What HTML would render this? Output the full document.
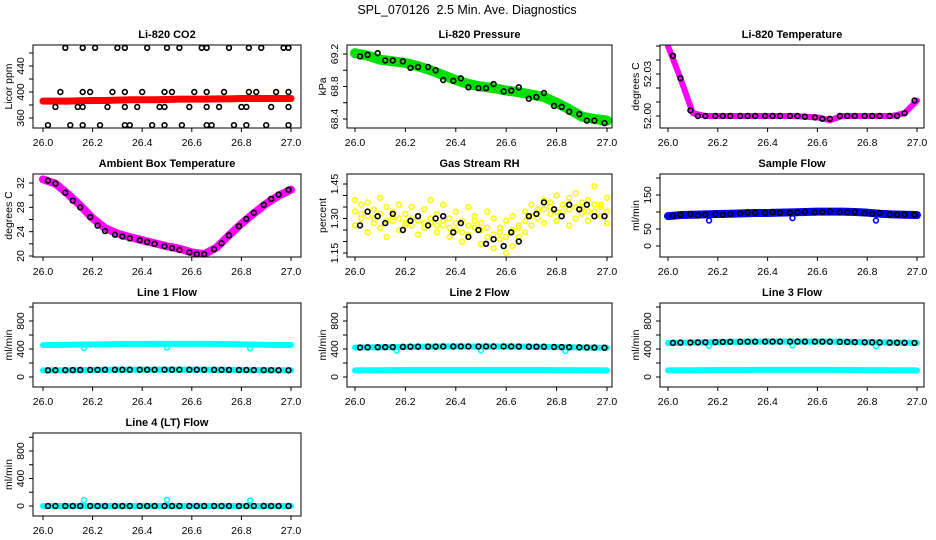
<!DOCTYPE html>
<html><head><meta charset="utf-8"><style>
html,body{margin:0;padding:0;background:#fff}
svg{display:block;font-family:"Liberation Sans",sans-serif}
</style></head><body>
<svg id="chart" width="936" height="540" viewBox="0 0 936 540" xmlns="http://www.w3.org/2000/svg">
<rect x="0" y="0" width="936" height="540" fill="#fff"/>
<text x="467" y="14" font-size="12.5" text-anchor="middle" style="white-space:pre" xml:space="preserve">SPL_070126  2.5 Min. Ave. Diagnostics</text>
</svg>
<script>
// ---- data ----
const xTicks = [26.0, 26.2, 26.4, 26.6, 26.8, 27.0];
const xTickLabels = ["26.0", "26.2", "26.4", "26.6", "26.8", "27.0"];
const bandT = [26.00,26.05,26.10,26.15,26.20,26.25,26.30,26.35,26.40,26.45,26.50,26.55,26.60,26.65,26.70,26.75,26.80,26.85,26.90,26.95,27.00];
const circT = [26.02,26.05,26.09,26.12,26.15,26.19,26.22,26.25,26.29,26.32,26.35,26.39,26.42,26.45,26.49,26.52,26.55,26.59,26.62,26.65,26.69,26.72,26.75,26.79,26.82,26.85,26.89,26.92,26.95,26.99];

const co2Band = [386,386,386,386.5,387,387,387.5,388,388,388,388.5,389,389,389,389.5,389.5,390,390,390,390,390];
const co2T = [26.09,26.16,26.21,26.30,26.33,26.42,26.50,26.55,26.64,26.66,26.75,26.83,26.88,26.97,26.99,
  26.07,26.16,26.19,26.28,26.33,26.40,26.49,26.52,26.61,26.66,26.73,26.83,26.86,26.94,26.99,
  26.05,26.14,26.16,26.26,26.33,26.38,26.47,26.49,26.59,26.66,26.71,26.80,26.82,26.92,26.99,
  26.02,26.11,26.16,26.23,26.33,26.35,26.44,26.49,26.56,26.66,26.68,26.77,26.82,26.90,26.99];
const co2V = [468,468,468,468,468,468,468,468,468,468,468,468,468,468,468,
  400,400,400,400,400,400,400,400,400,400,400,400,400,400,400,
  377,377,377,377,377,377,377,377,377,377,377,377,377,377,377,
  349,349,349,349,349,349,349,349,349,349,349,349,349,349,349];

const presBand = [69.21,69.18,69.13,69.11,69.09,69.05,69.00,68.94,68.88,68.83,68.80,68.78,68.75,68.73,68.70,68.67,68.60,68.52,68.43,68.40,68.38];
const presCirc = [69.17,69.19,69.21,69.12,69.12,69.11,69.03,69.04,69.04,69.00,68.88,68.87,68.90,68.79,68.78,68.78,68.83,68.74,68.75,68.79,68.65,68.67,68.72,68.56,68.55,68.49,68.46,68.38,68.38,68.35];

const tempBand = [52.050,52.027,52.002,52.000,52.000,52.000,52.000,52.000,52.000,52.000,52.000,51.9995,51.999,51.997,52.000,52.000,52.000,52.000,52.000,52.002,52.011];
const tempCirc = [52.043,52.027,52.004,52.000,52.000,52.000,52.000,52.000,52.000,52.000,52.000,52.000,52.000,52.000,52.000,52.000,51.9995,51.999,51.998,51.998,52.000,52.000,52.000,52.000,52.000,52.000,52.000,52.000,52.002,52.011];

const ambBand = [32.6,31.9,30.2,28.3,26.2,24.6,23.7,23.1,22.6,22.1,21.6,21.2,20.6,20.3,21.4,23.4,25.3,27.0,28.6,29.9,30.9];
const ambCirc = [32.4,31.9,30.4,29.1,28.0,26.4,25.0,24.1,23.5,23.2,22.9,22.6,22.3,22.0,21.6,21.3,21.0,20.6,20.3,20.3,21.1,22.1,23.4,24.9,26.1,27.1,28.4,29.4,30.1,30.9];

const rhT = [26.000,26.025,26.050,26.075,26.100,26.125,26.150,26.175,26.200,26.225,26.250,26.275,26.300,26.325,26.350,26.375,26.400,26.425,26.450,26.475,26.500,26.525,26.550,26.575,26.600,26.625,26.650,26.675,26.700,26.725,26.750,26.775,26.800,26.825,26.850,26.875,26.900,26.925,26.950,26.975,27.000];
const rhY1 = [1.38,1.36,1.37,1.34,1.39,1.35,1.33,1.36,1.32,1.35,1.31,1.34,1.38,1.32,1.36,1.30,1.33,1.29,1.35,1.31,1.28,1.33,1.30,1.26,1.29,1.31,1.27,1.33,1.36,1.34,1.38,1.37,1.40,1.36,1.39,1.41,1.37,1.38,1.44,1.36,1.39];
const rhY2 = [1.27,1.30,1.24,1.28,1.26,1.22,1.29,1.25,1.27,1.30,1.23,1.26,1.28,1.24,1.27,1.22,1.25,1.20,1.23,1.26,1.19,1.22,1.17,1.21,1.15,1.18,1.22,1.24,1.27,1.30,1.28,1.32,1.29,1.33,1.27,1.30,1.32,1.29,1.33,1.31,1.28];
const rhY3 = [1.33,1.32,1.31,1.30,1.32,1.29,1.31,1.30,1.28,1.27,1.29,1.28,1.30,1.27,1.29,1.26,1.28,1.24,1.27,1.29,1.25,1.26,1.23,1.24,1.22,1.25,1.26,1.29,1.31,1.33,1.34,1.35,1.33,1.36,1.34,1.35,1.34,1.33,1.36,1.35,1.33];
const rhCirc = [1.27,1.33,1.31,1.28,1.32,1.25,1.29,1.31,1.27,1.30,1.31,1.24,1.28,1.22,1.25,1.19,1.21,1.18,1.24,1.20,1.31,1.32,1.37,1.34,1.31,1.36,1.34,1.36,1.31,1.31];

const sfBand = [88,91,92,93,94,95,96,97,97,98,99,100,101,101,101,100,98,95,93,92,91];
const sfCirc = [89,92,94,90,92,94,92,94,96,99,98,98,100,98,98,99,101,99,100,102,99,99,100,96,95,97,93,92,93,92];
const dipT = [26.165, 26.50, 26.835];
const sfDip = [75, 82, 75];

const l1Up = [455,458,460,462,465,468,470,472,472,473,473,474,474,474,473,470,466,463,460,458,458];
const l1Low = [95,96,97,98,100,102,103,104,104,104,104,104,104,103,102,101,100,99,98,97,96];
const l1Circ = [96,97,98,99,100,102,103,104,104,104,104,104,104,104,104,104,104,104,104,103,102,102,101,100,100,99,98,98,97,96];
const l1Dip = [415,420,410];

const l2Up = [420,423,425,427,430,432,434,435,435,436,436,436,436,435,433,430,427,425,422,420,418];
const l2Low = [95,96,97,98,100,100,100,100,100,100,100,100,100,100,100,100,99,98,97,96,95];
const l2Circ = [421,424,426,427,428,431,433,434,435,435,436,436,436,436,436,436,436,436,436,435,434,433,432,429,428,426,424,422,420,418];
const l2Dip = [375,380,370];

const l3Up = [485,490,492,495,498,500,502,504,505,505,506,506,506,505,503,500,496,494,491,489,487];
const l3Low = [95,96,97,98,100,100,100,101,101,101,101,101,101,101,100,100,99,98,97,96,95];
const l3Circ = [488,491,492,494,496,499,501,503,504,505,505,506,506,506,506,506,506,506,505,504,502,500,498,496,495,493,491,490,489,487];
const l3Dip = [445,450,440];

const l4Band = [0,0,0,0,0,0,0,0,0,0,0,0,0,0,0,0,0,0,0,0,0];
const l4Circ = [0,0,0,0,0,0,0,0,0,0,0,0,0,0,0,0,0,0,0,0,0,0,0,0,0,0,0,0,0,0];
const l4Out = [85,90,80];

// ---- layout ----
const NS = "http://www.w3.org/2000/svg";
const svg = document.getElementById('chart');
const cols = [{l:33,r:301,x0:43,x1:291},{l:347,r:612,x0:355,x1:607},{l:660,r:924,x0:668,x1:917}];
const rows = [{t:45,b:128},{t:174,b:257},{t:303,b:387},{t:433,b:516}];

function mk(tag, attrs, parent){ const e=document.createElementNS(NS,tag); for(const k in attrs) e.setAttribute(k,attrs[k]); (parent||svg).appendChild(e); return e; }

function panel(o){
  const c=cols[o.col], r=rows[o.row];
  const g=mk('g',{});
  
  
  const xs=t=>c.x0+(t-26)*(c.x1-c.x0);
  const ys=v=>o.yp0+(v-o.yv0)*(o.yp1-o.yp0)/(o.yv1-o.yv0);
  const clip='clip-'+o.name;
  const cp=mk('clipPath',{id:clip},g); mk('rect',{x:c.l,y:r.t,width:c.r-c.l,height:r.b-r.t},cp);
  const data=mk('g',{'clip-path':'url(#'+clip+')'},g);
  
  
  (o.draw||(()=>{}))(data,xs,ys);
  const box=mk('rect',{x:c.l,y:r.t,width:c.r-c.l,height:r.b-r.t,fill:'none',stroke:'#000','stroke-width':1},g);
  
  
  xTicks.forEach((t,i)=>{
    const x=xs(t);
    mk('line',{x1:x,x2:x,y1:r.b,y2:r.b+4,stroke:'#000'},g);
    const tx=mk('text',{x:x,y:r.b+18,'font-size':10.5,'text-anchor':'middle'},g);
    
    
    tx.textContent=xTickLabels[i];
  });
  o.yTicks.forEach(v=>{
    const y=ys(v);
    mk('line',{x1:c.l,x2:c.l-4,y1:y,y2:y,stroke:'#000'},g);
  });
  o.yLabels.forEach(l=>{
    const y=ys(l[0]);
    const tx=mk('text',{x:0,y:0,'font-size':10.5,'text-anchor':'middle',transform:`translate(${c.l-9},${y}) rotate(-90)`},g);
    
    
    tx.textContent=l[1];
  });
  const yt=mk('text',{x:0,y:0,'font-size':10.5,'text-anchor':'middle',transform:`translate(${c.l-21},${(r.t+r.b)/2}) rotate(-90)`},g);
  
  
  yt.textContent=o.ytitle;
  const tt=mk('text',{x:(c.l+c.r)/2,y:r.t-7,'font-size':11,'font-weight':'bold','text-anchor':'middle'},g);
  
  
  tt.textContent=o.title;
}
function band(g,xs,ys,T,V,color,w,name){
  const p=mk('polyline',{points:T.map((t,i)=>xs(t)+','+ys(V[i])).join(' '),fill:'none',stroke:color,'stroke-width':w,'stroke-linejoin':'round','stroke-linecap':'round'},g);
  
  
}
function circles(g,xs,ys,T,V,color,name,rad){
  T.forEach((t,i)=>{
    const c=mk('circle',{cx:xs(t),cy:ys(V[i]),r:rad||2.4,fill:'none',stroke:color,'stroke-width':1.6},g);
    
    
  });
}
const CY='#00ffff';
const flowTicks=[0,200,400,600,800,1000], flowLabels=[[0,'0'],[400,'400'],[800,'800']];

panel({name:'co2',col:0,row:0,title:'Li-820 CO2',ytitle:'Licor ppm',yv0:360,yp0:118,yv1:440,yp1:66,
  yTicks:[360,380,400,420,440,460],yLabels:[[360,'360'],[400,'400'],[440,'440']],
  draw:(g,xs,ys)=>{band(g,xs,ys,bandT,co2Band,'#ff0000',7,'co2-series');circles(g,xs,ys,co2T,co2V,'#000','co2-point');}});
panel({name:'pressure',col:1,row:0,title:'Li-820 Pressure',ytitle:'kPa',yv0:68.4,yp0:119,yv1:68.8,yp1:86.5,
  yTicks:[68.4,68.6,68.8,69.0,69.2],yLabels:[[68.4,'68.4'],[68.8,'68.8'],[69.2,'69.2']],
  draw:(g,xs,ys)=>{band(g,xs,ys,bandT,presBand,'#00e000',10,'pressure-series');circles(g,xs,ys,circT,presCirc,'#000','pressure-point');}});
panel({name:'temperature',col:2,row:0,title:'Li-820 Temperature',ytitle:'degrees C',yv0:52.00,yp0:116,yv1:52.03,yp1:74,
  yTicks:[52.00,52.01,52.02,52.03,52.04,52.05],yLabels:[[52.00,'52.00'],[52.03,'52.03']],
  draw:(g,xs,ys)=>{band(g,xs,ys,bandT,tempBand,'#ff00ff',6,'temperature-series');circles(g,xs,ys,circT,tempCirc,'#000','temperature-point');}});
panel({name:'ambient',col:0,row:1,title:'Ambient Box Temperature',ytitle:'degrees C',yv0:20,yp0:256,yv1:32,yp1:183,
  yTicks:[20,22,24,26,28,30,32],yLabels:[[20,'20'],[24,'24'],[28,'28'],[32,'32']],
  draw:(g,xs,ys)=>{band(g,xs,ys,bandT,ambBand,'#ff00ff',8,'ambient-series');circles(g,xs,ys,circT,ambCirc,'#000','ambient-point');}});
panel({name:'rh',col:1,row:1,title:'Gas Stream RH',ytitle:'percent',yv0:1.15,yp0:253,yv1:1.45,yp1:184,
  yTicks:[1.15,1.20,1.25,1.30,1.35,1.40,1.45],yLabels:[[1.15,'1.15'],[1.30,'1.30'],[1.45,'1.45']],
  draw:(g,xs,ys)=>{circles(g,xs,ys,rhT,rhY1,'#ffff00','rh-point');circles(g,xs,ys,rhT,rhY2,'#ffff00','rh-point');circles(g,xs,ys,rhT,rhY3,'#ffff00','rh-point');circles(g,xs,ys,circT,rhCirc,'#000','rh-avg-point');}});
panel({name:'sample-flow',col:2,row:1,title:'Sample Flow',ytitle:'ml/min',yv0:0,yp0:246,yv1:150,yp1:195,
  yTicks:[0,50,100,150,200],yLabels:[[0,'0'],[50,'50'],[150,'150']],
  draw:(g,xs,ys)=>{band(g,xs,ys,bandT,sfBand,'#0000ff',8,'sample-flow-series');circles(g,xs,ys,dipT,sfDip,'#0000ff','sample-flow-dip');circles(g,xs,ys,circT,sfCirc,'#000','sample-flow-point');}});
panel({name:'line1',col:0,row:2,title:'Line 1 Flow',ytitle:'ml/min',yv0:0,yp0:377,yv1:800,yp1:321,yTicks:flowTicks,yLabels:flowLabels,
  draw:(g,xs,ys)=>{band(g,xs,ys,bandT,l1Up,CY,6,'line1-upper');circles(g,xs,ys,dipT,l1Dip,CY,'line1-dip');band(g,xs,ys,bandT,l1Low,CY,6,'line1-lower');circles(g,xs,ys,circT,l1Circ,'#000','line1-point');}});
panel({name:'line2',col:1,row:2,title:'Line 2 Flow',ytitle:'ml/min',yv0:0,yp0:377,yv1:800,yp1:321,yTicks:flowTicks,yLabels:flowLabels,
  draw:(g,xs,ys)=>{band(g,xs,ys,bandT,l2Up,CY,6,'line2-upper');circles(g,xs,ys,dipT,l2Dip,CY,'line2-dip');band(g,xs,ys,bandT,l2Low,CY,6,'line2-lower');circles(g,xs,ys,circT,l2Circ,'#000','line2-point');}});
panel({name:'line3',col:2,row:2,title:'Line 3 Flow',ytitle:'ml/min',yv0:0,yp0:377,yv1:800,yp1:321,yTicks:flowTicks,yLabels:flowLabels,
  draw:(g,xs,ys)=>{band(g,xs,ys,bandT,l3Up,CY,6,'line3-upper');circles(g,xs,ys,dipT,l3Dip,CY,'line3-dip');band(g,xs,ys,bandT,l3Low,CY,6,'line3-lower');circles(g,xs,ys,circT,l3Circ,'#000','line3-point');}});
panel({name:'line4',col:0,row:3,title:'Line 4 (LT) Flow',ytitle:'ml/min',yv0:0,yp0:506,yv1:800,yp1:451,yTicks:flowTicks,yLabels:flowLabels,
  draw:(g,xs,ys)=>{band(g,xs,ys,bandT,l4Band,CY,6,'line4-series');circles(g,xs,ys,dipT,l4Out,CY,'line4-outlier');circles(g,xs,ys,circT,l4Circ,'#000','line4-point');}});
</script>
</body></html>
